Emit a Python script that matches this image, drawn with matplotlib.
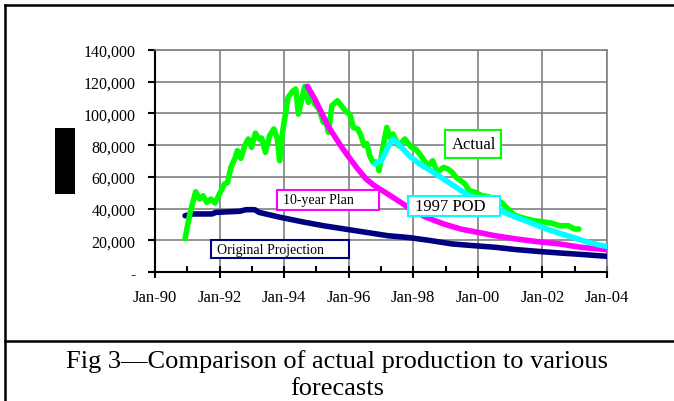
import matplotlib
matplotlib.use('Agg')
import matplotlib.pyplot as plt
from matplotlib.patches import Rectangle
from matplotlib.lines import Line2D
from matplotlib.ticker import FuncFormatter, MultipleLocator

plt.rcParams['font.family'] = ['Liberation Serif', 'DejaVu Serif']

# Actual production (year, value)
actual_yr = [1990.93, 1991.09, 1991.26, 1991.38, 1991.49, 1991.60, 1991.73, 1991.86,
             1992.02, 1992.15, 1992.25, 1992.35, 1992.49, 1992.55, 1992.66, 1992.78,
             1992.89, 1992.99, 1993.11, 1993.22, 1993.30, 1993.42, 1993.55, 1993.68,
             1993.79, 1993.86, 1993.95, 1994.12, 1994.28, 1994.36, 1994.44, 1994.55,
             1994.64, 1994.75, 1994.84, 1994.95, 1995.08, 1995.21, 1995.29, 1995.37,
             1995.48, 1995.65, 1995.81, 1995.94, 1996.04, 1996.14, 1996.28, 1996.38,
             1996.48, 1996.56, 1996.65, 1996.74, 1996.88, 1996.94, 1997.05, 1997.18,
             1997.27, 1997.37, 1997.54, 1997.74, 1997.94, 1998.07, 1998.20, 1998.34,
             1998.47, 1998.60, 1998.74, 1998.94, 1999.07, 1999.20, 1999.33, 1999.47,
             1999.60, 1999.73, 1999.93, 2000.13, 2000.33, 2000.53, 2000.73, 2000.93,
             2001.13, 2001.33, 2001.53, 2001.73, 2002.00, 2002.26, 2002.53, 2002.80,
             2003.00, 2003.13]
actual_val = [21000, 37600, 50600, 46000, 48100, 43900, 46000, 43500,
              50200, 55500, 56500, 66000, 72300, 76500, 71700, 79700,
              83900, 78600, 87600, 83900, 84500, 75500, 86000, 90200,
              83900, 70200, 88100, 110100, 114300, 115400, 99600, 109100,
              117100, 107000, 111200, 105900, 102800, 94400, 96000, 88100,
              104900, 108000, 103800, 100700, 99500, 91200, 90200, 86000,
              79700, 81000, 73400, 69600, 69200, 63900, 77600, 91200,
              84900, 87000, 79700, 83900, 78600, 77600, 74400, 70200,
              67100, 70200, 62900, 66000, 65000, 62900, 59700, 57600,
              55500, 51300, 50200, 48100, 47500, 46000, 43900, 39700,
              35900, 34500, 33400, 32400, 31700, 30900, 29200, 29200,
              27100, 27100]

# Original projection
orig_yr = [1990.93, 1991.16, 1991.76, 1991.89, 1992.62, 1992.82, 1993.09, 1993.22,
           1993.88, 1994.55, 1995.21, 1995.88, 1996.54, 1997.21, 1997.87, 1998.54,
           1999.20, 1999.87, 2000.53, 2001.20, 2001.86, 2002.53, 2003.19, 2003.99]
orig_val = [35500, 36600, 36600, 37600, 38300, 39300, 39300, 37600,
            34500, 31700, 29200, 27100, 25000, 22900, 21700, 19800,
            17700, 16600, 15600, 14100, 13000, 12000, 11100, 9900]

# 10-year plan
plan_yr = [1994.72, 1994.95, 1995.15, 1995.35, 1995.55, 1995.75, 1996.01, 1996.28,
           1996.54, 1996.80, 1997.21, 1997.61, 1998.00, 1998.40, 1998.94, 1999.47,
           2000.00, 2000.53, 2001.20, 2001.86, 2002.53, 2003.19, 2003.99]
plan_val = [117100, 109100, 100700, 92300, 86000, 79700, 72300, 65000,
            58600, 54400, 49200, 43900, 38700, 34500, 30300, 27100,
            25000, 22900, 20800, 19100, 17700, 15600, 14100]

# 1997 POD
pod_yr = [1996.81, 1997.01, 1997.21, 1997.37, 1997.54, 1997.87, 1998.20, 1998.54,
          1998.94, 1999.33, 1999.73, 2000.13, 2000.53, 2000.93, 2001.33, 2001.73,
          2002.13, 2002.53, 2002.93, 2003.33, 2003.72, 2003.99]
pod_val = [68100, 70200, 78600, 83900, 80700, 73400, 68100, 63900,
           58600, 53400, 48100, 43900, 40800, 36600, 33400, 30300,
           27100, 24400, 21900, 19300, 17200, 16200]

year_ticks = [1990, 1992, 1994, 1996, 1998, 2000, 2002, 2004]
year_labels = ['Jan-90', 'Jan-92', 'Jan-94', 'Jan-96', 'Jan-98', 'Jan-00', 'Jan-02', 'Jan-04']

# label boxes: text, colour, x0, x1, y0, y1 (data units), font size
boxes = [('Actual', '#00ff00', 1998.99, 2000.71, 71900, 89700, 12),
         ('10-year Plan', '#ff00ff', 1993.77, 1996.93, 39300, 51900, 10),
         ('1997 POD', '#00ffff', 1997.84, 2000.69, 35500, 48100, 12),
         ('Original Projection', '#000080', 1991.73, 1996.01, 8600, 20200, 10)]

fig = plt.figure(figsize=(6.74, 4.02), dpi=100)
ax = fig.add_axes([155/674, 1-273/402, (607-155)/674, (273-51)/402])

ax.plot(orig_yr, orig_val, c='#000080', lw=4, solid_capstyle='round', zorder=3)
ax.plot(actual_yr, actual_val, c='#00ff00', lw=4, solid_capstyle='round', zorder=4)
ax.plot(plan_yr, plan_val, c='#ff00ff', lw=4, solid_capstyle='round', zorder=5)
ax.plot(pod_yr, pod_val, c='#00ffff', lw=4, solid_capstyle='round', zorder=6)

for txt, col, x0, x1, y0, y1, fs in boxes:
    ax.add_patch(Rectangle((x0, y0), x1 - x0, y1 - y0, fc='white', ec=col, lw=1.5,
                           zorder=7, clip_on=False))
    ax.text(x0 + 0.2, (y0 + y1) / 2, txt, fontsize=fs, ha='left', va='center', zorder=8)

ax.set_xlim(1990, 2004)
ax.set_ylim(0, 140000)
ax.set_xticks(year_ticks, year_labels)
ax.xaxis.set_minor_locator(MultipleLocator(1))
ax.yaxis.set_major_locator(MultipleLocator(20000))
ax.yaxis.set_major_formatter(FuncFormatter(lambda v, p: '-' if v == 0 else f'{int(v):,}'))
ax.grid(True, which='major', c='#808080', lw=1.2)
ax.set_axisbelow(True)

ax.tick_params(axis='x', which='major', direction='inout', length=8, width=1.5, labelsize=12, pad=8)
ax.tick_params(axis='x', which='minor', direction='in', length=4, width=1.5)
ax.tick_params(axis='y', direction='out', length=5, width=1.5, labelsize=11.5, pad=9)
for s in ['left', 'bottom']:
    ax.spines[s].set_linewidth(1.5)
for s in ['top', 'right']:
    ax.spines[s].set_color('#808080')
    ax.spines[s].set_linewidth(1.2)

# redacted y label block
fig.add_artist(Rectangle((55/674, 1-195/402), 20/674, 66/402, fc='black', ec='none',
                         transform=fig.transFigure))

# frame lines
fig.add_artist(Line2D([4.5/674, 4.5/674], [0, 1-6/402], c='black', lw=1.8, transform=fig.transFigure))
fig.add_artist(Line2D([4.5/674, 1], [1-6/402, 1-6/402], c='black', lw=1.8, transform=fig.transFigure))
fig.add_artist(Line2D([4.5/674, 1], [1-341.5/402, 1-341.5/402], c='black', lw=1.8, transform=fig.transFigure))

fig.text(0.5, 1-361.5/402, 'Fig 3\u2014Comparison of actual production to various',
         fontsize=19, ha='center', va='center')
fig.text(0.5, 1-389/402, 'forecasts', fontsize=19, ha='center', va='center')

plt.savefig('out.png', dpi=100)
